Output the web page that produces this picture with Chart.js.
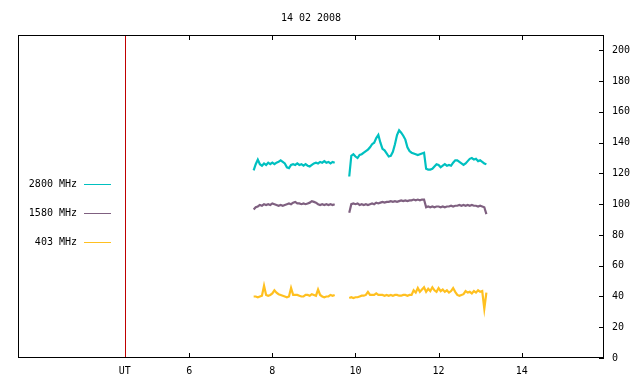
<!DOCTYPE html>
<html>
<head>
<meta charset="utf-8">
<script src="https://cdn.jsdelivr.net/npm/chart.js@4/dist/chart.umd.min.js"></script>
<style>
  html, body { margin: 0; padding: 0; background: #fff; }
  #wrap { width: 640px; height: 384px; }
</style>
</head>
<body>
<div id="wrap"><canvas id="myChart" width="640" height="384"></canvas></div>
<script>
// Horas (UT) - dois trechos de observação
const hoursA = [7.55, 7.60, 7.65, 7.70, 7.75, 7.80, 7.85, 7.90, 7.95, 8.00,
    8.05, 8.10, 8.15, 8.20, 8.25, 8.30, 8.35, 8.40, 8.45, 8.50,
    8.55, 8.60, 8.65, 8.70, 8.75, 8.80, 8.85, 8.90, 8.95, 9.00,
    9.05, 9.10, 9.15, 9.20, 9.25, 9.30, 9.35, 9.40, 9.45, 9.50];
const hoursB = [9.85, 9.90, 9.95, 10.00, 10.05, 10.10, 10.15, 10.20, 10.25, 10.30,
    10.35, 10.40, 10.45, 10.50, 10.55, 10.60, 10.65, 10.70, 10.75, 10.80,
    10.85, 10.90, 10.95, 11.00, 11.05, 11.10, 11.15, 11.20, 11.25, 11.30,
    11.35, 11.40, 11.45, 11.50, 11.55, 11.60, 11.65, 11.70, 11.75, 11.80,
    11.85, 11.90, 11.95, 12.00, 12.05, 12.10, 12.15, 12.20, 12.25, 12.30,
    12.35, 12.40, 12.45, 12.50, 12.55, 12.60, 12.65, 12.70, 12.75, 12.80,
    12.85, 12.90, 12.95, 13.00, 13.05, 13.10, 13.15];

// 2800 MHz
const mhz2800A = [122, 126, 129, 126, 125, 126.5, 125.5, 127, 126, 127,
    126, 127, 127.5, 128.5, 127.5, 126.5, 124, 123.5, 125.5, 126,
    125.5, 126.5, 125.5, 126, 125, 126, 125, 124.5, 125.5, 126.5,
    127, 126.5, 127.5, 127, 128, 127, 127.5, 126.5, 127.5, 127];
const mhz2800B = [118, 131.5, 132.5, 131, 130, 132, 132.5, 133.5, 134.5, 135.5,
    137, 139, 140, 143, 145, 140, 136, 135, 133, 131,
    131.5, 134, 139, 145, 148, 146.5, 144.5, 142, 137, 134.5,
    133.5, 133, 132.5, 132, 132.5, 133, 133.5, 123, 122.5, 122.5,
    123, 124.5, 126, 125.5, 124, 125, 126, 125, 125.5, 125,
    127, 128.5, 128.5, 127.5, 126.5, 125.5, 126.5, 128, 129.5, 130,
    129, 129.5, 128, 128.5, 127.5, 126.5, 126];

// 1580 MHz
const mhz1580A = [96.5, 98, 98.5, 99.5, 99, 100, 99.5, 100, 99.5, 100.5,
    100, 99.5, 99, 99.5, 99, 99.5, 100, 100.5, 100, 101,
    101.5, 100.5, 100.5, 100, 100.5, 100, 100.5, 101, 102, 101.5,
    101, 100, 99.5, 100, 99.5, 100, 99.5, 100, 99.5, 100];
const mhz1580B = [94.5, 100, 100.5, 100, 100.5, 99.5, 100, 99.5, 100, 99.5,
    100, 100.5, 100, 101, 100.5, 101, 101.5, 101, 101.5, 101.5,
    102, 101.5, 102, 101.5, 102, 102.5, 102, 102.5, 102, 102.5,
    102.5, 103, 102.5, 103, 102.5, 103, 103, 98, 98.5, 98,
    98.5, 98, 98.5, 98.5, 98, 98.5, 98, 98.5, 98.5, 99,
    98.5, 99, 99, 99.5, 99, 99.5, 99, 99.5, 99, 99.5,
    99, 99, 98.5, 99, 98.5, 98, 93.5];

// 403 MHz
const mhz403A = [40, 40, 39.5, 40, 40.5, 47, 41, 40.5, 41, 42,
    44, 42.5, 41.5, 41, 40.5, 40, 39.5, 40, 45.5, 41,
    41, 41, 40.5, 40, 40, 41, 41, 40.5, 41.5, 41,
    40.5, 44.5, 41, 40, 39.5, 40, 40, 41, 40.5, 41];
const mhz403B = [39, 39.5, 39, 39.5, 39.5, 40, 40.5, 40.5, 41, 43,
    41, 41, 41, 42, 41, 41, 41, 40.5, 41, 40.5,
    41, 40.5, 41, 41, 40.5, 40.5, 41, 41, 40.5, 41,
    41, 44, 42.5, 45.5, 43, 44.5, 46, 43, 45, 43.5,
    46, 44, 43, 45.5, 43.5, 44.5, 43, 44, 42.5, 43.5,
    45.5, 43, 41, 40.5, 41, 41.5, 43.5, 42.5, 43, 42,
    43.5, 42.5, 44, 43, 43.5, 32, 42.5];

const utHour = 4.45; // linha vermelha "UT"
const xTickValues = [utHour, 6, 8, 10, 12, 14];
const yTickValues = [0, 20, 40, 60, 80, 100, 120, 140, 160, 180, 200];

const legendNames = ['2800 MHz', '1580 MHz', '403 MHz'];
const colors = ['#00c0c0', '#7f6080', '#ffc020'];

const gap = 9.7;
function serie(a, b) {
    return hoursA.map((h, i) => ({ x: h, y: a[i] }))
        .concat([{ x: gap, y: null }])
        .concat(hoursB.map((h, i) => ({ x: h, y: b[i] })));
}

const FONT = '"DejaVu Sans Mono", monospace';

// moldura, ticks internos, linha UT e legenda (estilo gnuplot)
const gnuFrame = {
    id: 'gnuFrame',
    afterDatasetsDraw(chart) {
        const { ctx, chartArea: a, scales: { x, y } } = chart;
        ctx.save();
        ctx.lineWidth = 1;

        ctx.strokeStyle = '#000';
        ctx.strokeRect(a.left + 0.5, a.top + 0.5, a.right - a.left - 1, a.bottom - a.top - 1);

        ctx.beginPath();
        xTickValues.slice(1).forEach(v => {
            const px = Math.round(x.getPixelForValue(v)) + 0.5;
            ctx.moveTo(px, a.bottom);
            ctx.lineTo(px, a.bottom - 5);
            ctx.moveTo(px, a.top);
            ctx.lineTo(px, a.top + 5);
        });
        yTickValues.forEach(v => {
            const py = Math.round(y.getPixelForValue(v)) + 0.5;
            ctx.moveTo(a.right, py);
            ctx.lineTo(a.right - 5, py);
        });
        ctx.stroke();

        // linha UT
        const ux = Math.round(x.getPixelForValue(utHour));
        ctx.fillStyle = 'rgb(192, 0, 0)';
        ctx.fillRect(ux, a.top + 1, 1, a.bottom - a.top - 2);

        ctx.font = '10px ' + FONT;
        ctx.textAlign = 'right';
        ctx.textBaseline = 'middle';
        legendNames.forEach((name, i) => {
            const ly = 184 + i * 29;
            ctx.fillStyle = '#000';
            ctx.fillText(name, 77, ly);
            ctx.strokeStyle = colors[i];
            ctx.beginPath();
            ctx.moveTo(84, ly + 0.5);
            ctx.lineTo(111, ly + 0.5);
            ctx.stroke();
        });
        ctx.restore();
    }
};

const ctx = document.getElementById('myChart').getContext('2d');

new Chart(ctx, {
    type: 'line',
    data: {
        datasets: [
            { label: legendNames[0], data: serie(mhz2800A, mhz2800B), borderColor: colors[0] },
            { label: legendNames[1], data: serie(mhz1580A, mhz1580B), borderColor: colors[1] },
            { label: legendNames[2], data: serie(mhz403A, mhz403B), borderColor: colors[2] }
        ]
    },
    options: {
        responsive: false,
        animation: false,
        elements: {
            point: { radius: 0 },
            line: { borderWidth: 2.2, tension: 0 }
        },
        layout: { padding: { left: 18, top: 0, right: 0, bottom: 0 } },
        plugins: {
            legend: { display: false },
            tooltip: { enabled: false },
            title: {
                display: true,
                text: '14 02 2008',
                color: '#000',
                fullSize: false,
                font: { family: FONT, size: 10, weight: 'normal' },
                padding: { top: 12, bottom: 11 }
            }
        },
        scales: {
            x: {
                type: 'linear',
                min: 1.88,
                max: 15.98,
                grid: { display: false, drawTicks: false },
                border: { display: false },
                afterBuildTicks: s => { s.ticks = xTickValues.map(v => ({ value: v })); },
                afterFit: s => { s.height = 26; },
                ticks: {
                    padding: 7,
                    color: '#000',
                    autoSkip: false,
                    maxRotation: 0,
                    font: { family: FONT, size: 10 },
                    callback: v => v === utHour ? 'UT' : v
                }
            },
            y: {
                position: 'right',
                min: 0,
                max: 210,
                grid: { display: false, drawTicks: false },
                border: { display: false },
                afterBuildTicks: s => { s.ticks = yTickValues.map(v => ({ value: v })); },
                afterFit: s => { s.width = 36; },
                ticks: {
                    padding: 8,
                    color: '#000',
                    font: { family: FONT, size: 10 }
                }
            }
        }
    },
    plugins: [gnuFrame]
});
</script>
</body>
</html>
